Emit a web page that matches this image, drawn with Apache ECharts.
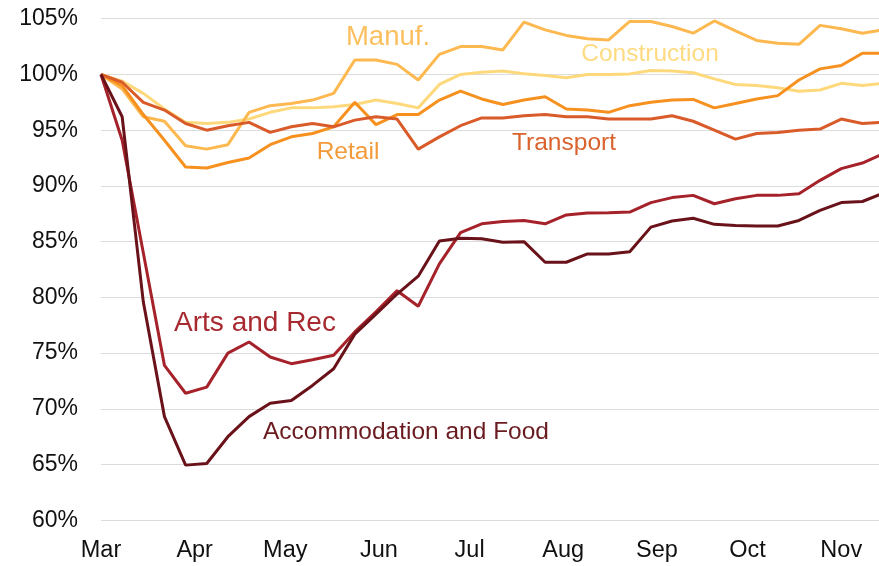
<!DOCTYPE html>
<html>
<head>
<meta charset="utf-8">
<script src="https://cdn.jsdelivr.net/npm/echarts@6/dist/echarts.min.js"></script>
<style>
  html, body { margin: 0; padding: 0; background: #fff; }
  #chart { width: 879px; height: 566px; }
</style>
</head>
<body>
<div id="chart"></div>
<script>
// days since 1 March, one point per week
const weekDays = [0, 7, 14, 21, 28, 35, 42, 49, 56, 63, 70, 77, 84, 91, 98, 105, 112, 119, 126,
  133, 140, 147, 154, 161, 168, 175, 182, 189, 196, 203, 210, 217, 224, 231, 238, 245, 252, 259];

const monthTicks = [0, 31, 61, 92, 122, 153, 184, 214, 245];
const monthLabels = ['Mar', 'Apr', 'May', 'Jun', 'Jul', 'Aug', 'Sep', 'Oct', 'Nov'];
const yTicks = [60, 65, 70, 75, 80, 85, 90, 95, 100, 105];

const manuf = [100, 98.7, 96.2, 95.8, 93.6, 93.3, 93.7, 96.6, 97.2, 97.4, 97.7, 98.3, 101.3, 101.3,
  100.9, 99.5, 101.8, 102.5, 102.5, 102.2, 104.7, 104.0, 103.5, 103.2, 103.1, 104.75, 104.75, 104.3,
  103.7, 104.8, 103.9, 103.05, 102.8, 102.7, 104.4, 104.1, 103.7, 104.0];
const construction = [100, 99.4, 98.3, 96.9, 95.7, 95.6, 95.7, 96.0, 96.6, 97.0, 97.0, 97.1, 97.3,
  97.7, 97.4, 97.0, 99.1, 100.0, 100.2, 100.3, 100.06, 99.9, 99.7, 100.0, 100.0, 100.05, 100.35,
  100.3, 100.15, 99.6, 99.1, 99.0, 98.8, 98.5, 98.6, 99.2, 99.0, 99.2];
const retail = [100, 99.0, 96.4, 94.1, 91.7, 91.6, 92.1, 92.5, 93.7, 94.4, 94.7, 95.3, 97.5, 95.5,
  96.4, 96.4, 97.7, 98.5, 97.8, 97.3, 97.7, 98.0, 96.9, 96.8, 96.6, 97.2, 97.5, 97.7, 97.76, 97.0,
  97.4, 97.8, 98.1, 99.5, 100.5, 100.8, 101.9, 101.9];
const transport = [100, 99.3, 97.5, 96.8, 95.6, 95.0, 95.4, 95.7, 94.8, 95.3, 95.6, 95.3, 95.9, 96.2,
  96.0, 93.3, 94.4, 95.4, 96.1, 96.1, 96.3, 96.4, 96.2, 96.2, 96.0, 96.0, 96.0, 96.3, 95.8, 95.0,
  94.2, 94.7, 94.8, 95.0, 95.1, 96.0, 95.6, 95.7];
const artsRec = [100, 94.1, 84.0, 73.9, 71.4, 71.95, 75.0, 76.0, 74.65, 74.05, 74.4, 74.8, 76.9, 78.7,
  80.6, 79.2, 83.0, 85.8, 86.6, 86.8, 86.9, 86.6, 87.4, 87.56, 87.6, 87.65, 88.5, 88.95, 89.15, 88.4,
  88.85, 89.15, 89.15, 89.3, 90.5, 91.55, 92.05, 92.9];
const accomFood = [100, 96.2, 79.6, 69.3, 64.95, 65.1, 67.5, 69.3, 70.5, 70.75, 72.1, 73.6, 76.7, 78.5,
  80.3, 81.9, 85.05, 85.3, 85.25, 84.95, 85.0, 83.15, 83.15, 83.9, 83.9, 84.1, 86.3, 86.85, 87.1,
  86.55, 86.45, 86.4, 86.4, 86.9, 87.8, 88.5, 88.6, 89.35];

const font = 'Liberation Sans, Arial, Helvetica, sans-serif';

const lines = [
  { name: 'Construction', data: construction, color: '#fed97c', label: [650, 54.5], size: 24.5, text: '#fedb82' },
  { name: 'Manuf.', data: manuf, color: '#fdb850', label: [388, 37], size: 27.5, text: '#fcbf5e' },
  { name: 'Retail', data: retail, color: '#f6911f', label: [348, 152], size: 24.5, text: '#f39a3a' },
  { name: 'Transport', data: transport, color: '#da5b2a', label: [564, 143], size: 24.5, text: '#d9622d' },
  { name: 'Arts and Rec', data: artsRec, color: '#a6222b', label: [255, 323.5], size: 28, text: '#a72a30' },
  { name: 'Accommodation and Food', data: accomFood, color: '#6a1219', label: [406, 432], size: 24.5, text: '#6a1b1f' }
];

const chart = echarts.init(document.getElementById('chart'), null, { renderer: 'canvas' });

const option = {
  animation: false,
  backgroundColor: '#fff',
  grid: { left: 101, right: 0, top: 18.7, bottom: 45.7, containLabel: false },
  xAxis: {
    type: 'value',
    min: 0,
    max: 257.5,
    axisLine: { show: false },
    axisTick: { show: false },
    splitLine: { show: false },
    axisLabel: {
      customValues: monthTicks,
      formatter: v => monthLabels[monthTicks.indexOf(v)] || '',
      color: '#111',
      fontFamily: font,
      fontSize: 23.5,
      margin: 18
    }
  },
  yAxis: {
    type: 'value',
    min: yTicks[0],
    max: yTicks[yTicks.length - 1],
    interval: 5,
    axisLine: { show: false },
    axisTick: { show: false },
    splitLine: { lineStyle: { color: '#dcdcdc', width: 1 } },
    axisLabel: {
      formatter: '{value}%',
      color: '#111',
      fontFamily: font,
      fontSize: 23,
      margin: 23
    }
  },
  series: lines.map(l => ({
    name: l.name,
    type: 'line',
    data: l.data.map((v, i) => [weekDays[i], v]),
    showSymbol: false,
    symbol: 'none',
    clip: true,
    lineStyle: { color: l.color, width: 3 },
    itemStyle: { color: l.color }
  })),
  graphic: lines.map(l => ({
    type: 'text',
    x: l.label[0],
    y: l.label[1],
    silent: true,
    style: {
      text: l.name,
      fill: l.text,
      font: l.size + 'px ' + font,
      align: 'center',
      verticalAlign: 'middle'
    }
  }))
};

chart.setOption(option);
</script>
</body>
</html>
